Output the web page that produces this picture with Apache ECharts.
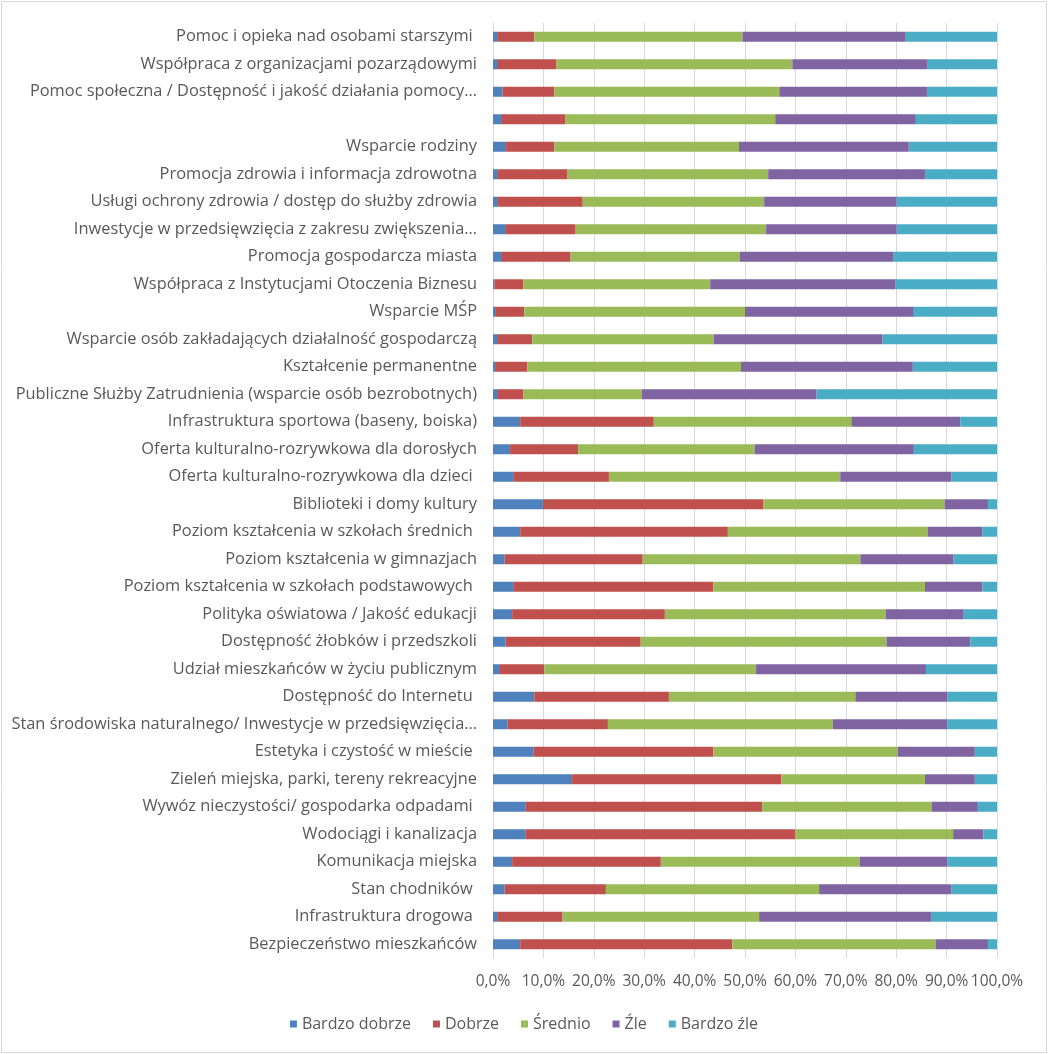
<!DOCTYPE html>
<html>
<head>
<meta charset="utf-8">
<script src="https://cdn.jsdelivr.net/npm/echarts@6/dist/echarts.min.js"></script>
<style>
html,body{margin:0;padding:0;background:#fff;}
#chart{width:1048px;height:1054px;}
</style>
</head>
<body>
<div id="chart"></div>
<script>
const categories = [
  "Pomoc i opieka nad osobami starszymi ",
  "Współpraca z organizacjami pozarządowymi",
  "Pomoc społeczna / Dostępność i jakość działania pomocy…",
  "",
  "Wsparcie rodziny",
  "Promocja zdrowia i informacja zdrowotna",
  "Usługi ochrony zdrowia / dostęp do służby zdrowia",
  "Inwestycje w przedsięwzięcia z zakresu zwiększenia…",
  "Promocja gospodarcza miasta",
  "Współpraca z Instytucjami Otoczenia Biznesu",
  "Wsparcie MŚP",
  "Wsparcie osób zakładających działalność gospodarczą",
  "Kształcenie permanentne",
  "Publiczne Służby Zatrudnienia (wsparcie osób bezrobotnych)",
  "Infrastruktura sportowa (baseny, boiska)",
  "Oferta kulturalno-rozrywkowa dla dorosłych",
  "Oferta kulturalno-rozrywkowa dla dzieci ",
  "Biblioteki i domy kultury",
  "Poziom kształcenia w szkołach średnich ",
  "Poziom kształcenia w gimnazjach",
  "Poziom kształcenia w szkołach podstawowych ",
  "Polityka oświatowa / Jakość edukacji",
  "Dostępność żłobków i przedszkoli",
  "Udział mieszkańców w życiu publicznym",
  "Dostępność do Internetu ",
  "Stan środowiska naturalnego/ Inwestycje w przedsięwzięcia…",
  "Estetyka i czystość w mieście ",
  "Zieleń miejska, parki, tereny rekreacyjne",
  "Wywóz nieczystości/ gospodarka odpadami ",
  "Wodociągi i kanalizacja",
  "Komunikacja miejska",
  "Stan chodników ",
  "Infrastruktura drogowa ",
  "Bezpieczeństwo mieszkańców"
];

const seriesNames = ["Bardzo dobrze", "Dobrze", "Średnio", "Źle", "Bardzo źle"];

const bardzoDobrze = [1.0,0.8,1.9,1.6,2.6,1.0,1.0,2.4,1.6,0.3,0.6,0.8,0.6,0.8,5.4,3.4,4.0,9.9,5.4,2.3,4.0,3.8,2.5,1.2,8.2,2.9,8.0,15.7,6.4,6.4,3.8,2.3,1.0,5.4];
const dobrze       = [7.2,11.8,10.3,12.8,9.6,13.8,16.8,14.0,13.8,5.7,5.6,7.0,6.2,5.2,26.5,13.5,19.0,43.7,41.2,27.4,39.7,30.3,26.8,9.0,26.7,19.9,35.7,41.5,47.0,53.6,29.5,20.1,12.8,42.1];
const srednio      = [41.3,46.8,44.6,41.6,36.6,39.8,36.0,37.8,33.6,37.1,43.8,36.0,42.4,23.5,39.2,35.0,45.9,36.0,39.7,43.2,42.0,43.8,48.8,42.0,37.0,44.6,36.6,28.5,33.7,31.3,39.5,42.3,39.0,40.4];
const zle          = [32.4,26.7,29.3,27.9,33.7,31.1,26.3,25.9,30.5,36.8,33.5,33.5,34.1,34.7,21.6,31.6,22.0,8.6,10.8,18.5,11.4,15.5,16.6,33.7,18.2,22.7,15.3,9.9,9.1,6.0,17.3,26.2,34.1,10.3];
const bardzoZle    = [18.1,13.9,13.9,16.1,17.5,14.3,19.9,19.9,20.5,20.1,16.5,22.7,16.7,35.8,7.3,16.5,9.1,1.8,2.9,8.6,2.9,6.6,5.3,14.1,9.9,9.9,4.4,4.4,3.8,2.7,9.9,9.1,13.1,1.8];

const colors = ["#4F81BD", "#C0504D", "#9BBB59", "#8064A2", "#4BACC6"];
const allData = [bardzoDobrze, dobrze, srednio, zle, bardzoZle];

const FONT = "Open Sans";
const chart = echarts.init(document.getElementById('chart'), null, {renderer: 'canvas'});

chart.setOption({
  animation: false,
  backgroundColor: '#ffffff',
  color: colors,
  textStyle: {fontFamily: FONT},
  graphic: [{
    type: 'rect',
    shape: {x: 1.5, y: 1.5, width: 1045, height: 1051},
    style: {fill: 'none', stroke: '#D9D9D9', lineWidth: 1},
    silent: true
  }],
  grid: {left: 493, right: 51, top: 23, bottom: 96, containLabel: false},
  legend: {
    bottom: 17,
    left: 'center',
    itemWidth: 7,
    itemHeight: 7,
    itemGap: 22,
    icon: 'rect',
    textStyle: {color: '#595959', fontSize: 16, fontFamily: FONT},
    data: seriesNames
  },
  xAxis: {
    type: 'value',
    min: 0,
    max: 100,
    interval: 10,
    axisLine: {show: false},
    axisTick: {show: false},
    splitLine: {show: true, lineStyle: {color: '#D9D9D9', width: 1}},
    axisLabel: {
      color: '#595959',
      fontSize: 15.5,
      fontFamily: FONT,
      margin: 16,
      formatter: v => v.toFixed(1).replace('.', ',') + '%'
    }
  },
  yAxis: {
    type: 'category',
    inverse: true,
    data: categories,
    axisLine: {show: true, lineStyle: {color: '#D9D9D9'}},
    axisTick: {show: false},
    axisLabel: {
      color: '#595959',
      fontSize: 16.4,
      fontFamily: FONT,
      margin: 16,
      interval: 0
    }
  },
  series: seriesNames.map((name, i) => ({
    name: name,
    type: 'bar',
    stack: 'total',
    barWidth: 10,
    data: allData[i],
    itemStyle: {color: colors[i]}
  }))
});
</script>
</body>
</html>
